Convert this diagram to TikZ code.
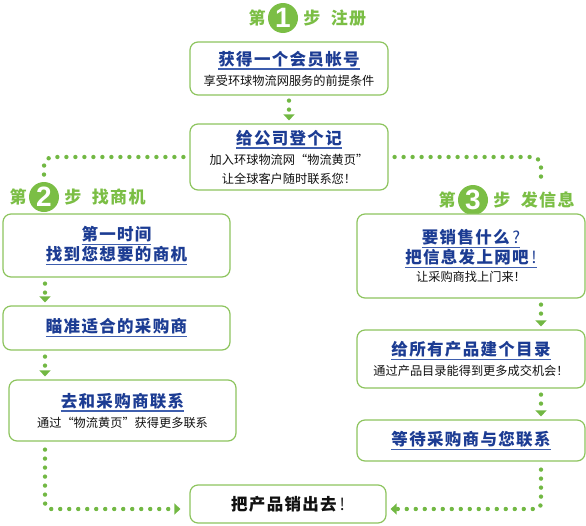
\documentclass[tikz,border=0pt]{standalone}
\usepackage{fontspec}
\setmainfont{Noto Sans CJK SC}
\newfontfamily\ttlfont[LetterSpace=8]{Noto Sans CJK SC}
\newfontfamily\numfont{Liberation Sans}
\usepackage{xcolor}
\usetikzlibrary{arrows.meta,positioning}
\definecolor{BoxGreen}{HTML}{8DC45E}
\definecolor{DotGreen}{HTML}{72B843}
\definecolor{StepGreen}{HTML}{7BBE45}
\definecolor{TitleBlue}{HTML}{1C3C93}
\definecolor{LineBlue}{HTML}{3E5EAE}
\definecolor{TextDark}{HTML}{111111}
\newcommand\ulbox[1]{\leavevmode\vtop{\hbox{#1}\kern1.6pt{\color{LineBlue}\hrule height 1.3pt}}}
\newcommand\ttl[1]{{\ttlfont\bfseries\fontsize{16.5}{20}\selectfont\color{TitleBlue}\ulbox{#1}}}
\newcommand\subt[1]{{\fontsize{12.2}{20}\selectfont\color{TextDark}#1}}
\tikzset{
  box/.style={draw=BoxGreen, line width=1.2pt, rounded corners=8pt, fill=white,
              align=center, inner sep=2pt, font=\fontsize{12}{20}\selectfont},
  stepnum/.style={circle, fill=StepGreen, minimum size=30pt, inner sep=0pt,
                  text=white, font=\numfont\bfseries\fontsize{28}{28}\selectfont},
  steptxt/.style={text=StepGreen, inner sep=0pt,
                  font=\ttlfont\bfseries\fontsize{17}{20}\selectfont},
  dotline/.style={draw=DotGreen, line width=4.4pt, line cap=round,
                  dash pattern=on 0pt off 9pt},
  dotarrow/.style={dotline, -{Triangle[width=11pt,length=6pt]}}
}

\begin{document}
\begin{tikzpicture}[x=1pt, y=-1pt]
  \useasboundingbox (0,0) rectangle (586,525);
  \coordinate (colL) at (45,0);
  \coordinate (colR) at (541,0);

  % step labels
  \node[stepnum] (n1) at (283,18) {1};
  \node[steptxt, left=2pt of n1] (d1) {第};
  \node[steptxt, right=5pt of n1] (b1) {步};
  \node[steptxt, right=10pt of b1] (w1) {注册};

  \node[stepnum] (n2) at (44,197) {2};
  \node[steptxt, left=2pt of n2] (d2) {第};
  \node[steptxt, right=5pt of n2] (b2) {步};
  \node[steptxt, right=10pt of b2] (w2) {找商机};

  \node[stepnum] (n3) at (473,200) {3};
  \node[steptxt, left=2pt of n3] (d3) {第};
  \node[steptxt, right=5pt of n3] (b3) {步};
  \node[steptxt, right=10pt of b3] (w3) {发信息};

  % boxes
  \node[box, minimum width=198pt, minimum height=53pt] (reg) at (289,68.5)
    {\ttl{获得一个会员帐号}\\\subt{享受环球物流网服务的前提条件}};
  \node[box, minimum width=198pt, minimum height=66pt] (join) at (289,157)
    {\ttl{给公司登个记}\\\subt{加入环球物流网“物流黄页”}\\[-1pt]\subt{让全球客户随时联系您！}};

  \node[box, minimum width=227pt, minimum height=63pt] (first) at (116.5,245.5)
    {\ttl{第一时间}\\\ttl{找到您想要的商机}};
  \node[box, minimum width=227pt, minimum height=44pt] (aim) at (116.5,328)
    {\ttl{瞄准适合的采购商}};
  \node[box, minimum width=227pt, minimum height=61pt] (contact) at (122.5,410.5)
    {\ttl{去和采购商联系}\\\subt{通过“物流黄页”获得更多联系}};

  \node[box, minimum width=228pt, minimum height=84pt] (sell) at (471,256)
    {\ttl{要销售什么{\mdseries\,?}}\\\ttl{把信息发上网吧{\mdseries\,!}}\\[-2pt]\subt{让采购商找上门来！}};
  \node[box, minimum width=228pt, minimum height=58pt] (catalog) at (471,359)
    {\ttl{给所有产品建个目录}\\\subt{通过产品目录能得到更多成交机会！}};
  \node[box, minimum width=228pt, minimum height=41pt] (wait) at (471,440.5)
    {\ttl{等待采购商与您联系}};

  \node[box, minimum width=196pt, minimum height=38pt] (out) at (288,504)
    {{\ttlfont\bfseries\fontsize{16.5}{20}\selectfont\color{TextDark}把产品销出去{\mdseries\,!}}};

  % connectors
  \draw[dotarrow, shorten <=5pt, shorten >=3pt] (reg) -- (join);
  \draw[dotline, rounded corners=9pt] ([xshift=-6pt]join.west) -| (44,176);
  \draw[dotline, rounded corners=9pt] ([xshift=6pt]join.east) -| (541,178);

  \draw[dotarrow, shorten <=6pt, shorten >=3pt] (first.south -| colL) -- (aim.north -| colL);
  \draw[dotarrow, shorten <=6pt, shorten >=3pt] (aim.south -| colL) -- (contact.north -| colL);
  \draw[dotarrow, rounded corners=6pt, shorten <=8pt, shorten >=9pt]
    (contact.south -| colL) |- ([yshift=-5pt]out.west);

  \draw[dotarrow, shorten <=6pt, shorten >=3pt] (sell.south -| colR) -- (catalog.north -| colR);
  \draw[dotarrow, shorten <=6pt, shorten >=3pt] (catalog.south -| colR) -- (wait.north -| colR);
  \draw[dotarrow, rounded corners=6pt, shorten <=8pt, shorten >=4pt]
    (wait.south -| colR) |- ([yshift=-5pt]out.east);
\end{tikzpicture}
\end{document}
